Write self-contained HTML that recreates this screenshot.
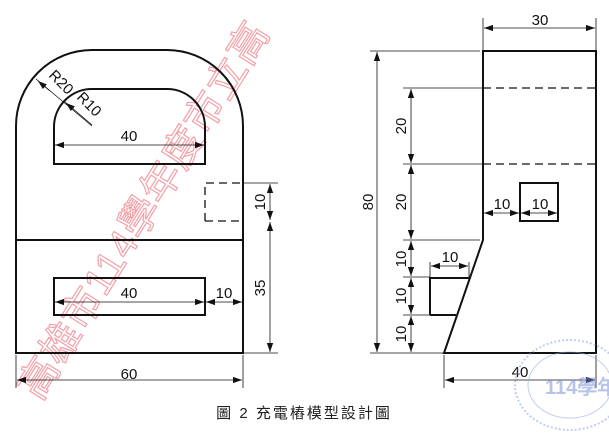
<!DOCTYPE html>
<html><head><meta charset="utf-8"><style>
html,body{margin:0;padding:0;background:#fff;}
svg{display:block;}
text{font-family:"Liberation Sans",Arial,sans-serif;}
</style></head><body>
<svg width="609" height="433" viewBox="0 0 609 433" xmlns="http://www.w3.org/2000/svg">
<defs>
<marker id="a" viewBox="0 0 10 10" refX="10" refY="5" markerWidth="9" markerHeight="9" orient="auto-start-reverse" markerUnits="userSpaceOnUse">
<path d="M0,1.5 L10,5 L0,8.5 z" fill="#111"/></marker>
</defs>
<!-- watermark -->
<text x="0" y="0" transform="translate(40,402) rotate(-58)" font-family="'Noto Serif CJK SC','Noto Sans CJK TC',serif" font-size="40" fill="none" stroke="#f2a0a8" stroke-width="1.2" letter-spacing="1">高雄市114學年度市立高</text>

<g stroke="#111" fill="none" stroke-width="2">
<path d="M16,353 L16,126 A76,76 0 0 1 92,50 L167,50 A76,76 0 0 1 243,126 L243,353 Z"/>
<line x1="16" y1="240" x2="243" y2="240"/>
<path d="M54,164 L54,127 A38,38 0 0 1 92,89 L167,89 A38,38 0 0 1 205,127 L205,164 Z"/>
<rect x="54" y="278" width="151" height="37"/>
<path d="M483,51 L596,51 L596,353 L444,353 L483,240 Z"/>
<path d="M430,315 L430,278 L469,278"/>
<path d="M430,315 L456,315"/>
<rect x="520" y="183" width="38" height="38"/>
</g>
<g stroke="#111" fill="none" stroke-width="1.3" stroke-dasharray="8,5">
<path d="M205,221 L205,183 L243,183"/>
<path d="M205,221 L243,221"/>
<line x1="483" y1="88" x2="596" y2="88"/>
<line x1="483" y1="164" x2="596" y2="164"/>
</g>
<g stroke="#111" stroke-width="0.8" fill="none">
<line x1="16" y1="355" x2="16" y2="388"/>
<line x1="243" y1="355" x2="243" y2="388"/>
<line x1="243" y1="183" x2="278" y2="183"/>
<line x1="243" y1="353" x2="278" y2="353"/>
<line x1="483" y1="18" x2="483" y2="50"/>
<line x1="596" y1="18" x2="596" y2="50"/>
<line x1="370" y1="51" x2="480" y2="51"/>
<line x1="403" y1="88" x2="483" y2="88"/>
<line x1="403" y1="164" x2="483" y2="164"/>
<line x1="403" y1="240" x2="480" y2="240"/>
<line x1="403" y1="277" x2="430" y2="277"/>
<line x1="403" y1="315" x2="430" y2="315"/>
<line x1="370" y1="353" x2="444" y2="353"/>
<line x1="444" y1="355" x2="444" y2="388"/>
<line x1="596" y1="355" x2="596" y2="388"/>
<line x1="430" y1="262" x2="430" y2="277"/>
<line x1="469" y1="262" x2="469" y2="277"/>
<line x1="36" y1="79" x2="92" y2="126"/>
<line x1="64" y1="101" x2="92" y2="125"/>
</g>
<g stroke="#111" stroke-width="0.8" fill="none" marker-start="url(#a)" marker-end="url(#a)">
<line x1="17" y1="380" x2="242" y2="380"/>
<line x1="55" y1="145" x2="204" y2="145"/>
<line x1="55" y1="302" x2="204" y2="302"/>
<line x1="206" y1="302" x2="242" y2="302"/>
<line x1="270" y1="184" x2="270" y2="220"/>
<line x1="270" y1="222" x2="270" y2="352"/>
<line x1="484" y1="28" x2="595" y2="28"/>
<line x1="377" y1="52" x2="377" y2="352"/>
<line x1="411" y1="89" x2="411" y2="163"/>
<line x1="411" y1="165" x2="411" y2="239"/>
<line x1="411" y1="241" x2="411" y2="276"/>
<line x1="411" y1="278" x2="411" y2="314"/>
<line x1="411" y1="316" x2="411" y2="352"/>
<line x1="431" y1="266" x2="468" y2="266"/>
<line x1="484" y1="213" x2="519" y2="213"/>
<line x1="521" y1="213" x2="557" y2="213"/>
<line x1="445" y1="380" x2="595" y2="380"/>
</g>
<g stroke="#111" stroke-width="0.8" fill="none" marker-start="url(#a)">
<line x1="38" y1="81" x2="50" y2="91"/>
<line x1="66" y1="103" x2="72" y2="108"/>
</g>
<g fill="#111" font-size="15">
<text x="129" y="379" text-anchor="middle">60</text>
<text x="129" y="141" text-anchor="middle">40</text>
<text x="129" y="298" text-anchor="middle">40</text>
<text x="224" y="298" text-anchor="middle">10</text>
<text transform="translate(265,202) rotate(-90)" text-anchor="middle">10</text>
<text transform="translate(265,288) rotate(-90)" text-anchor="middle">35</text>
<text transform="translate(48,76) rotate(45)">R20</text>
<text transform="translate(76,98) rotate(45)">R10</text>
<text x="540" y="25" text-anchor="middle">30</text>
<text x="520" y="377" text-anchor="middle">40</text>
<text transform="translate(373,202) rotate(-90)" text-anchor="middle">80</text>
<text transform="translate(406,126) rotate(-90)" text-anchor="middle">20</text>
<text transform="translate(406,202) rotate(-90)" text-anchor="middle">20</text>
<text transform="translate(406,259) rotate(-90)" text-anchor="middle">10</text>
<text transform="translate(406,296) rotate(-90)" text-anchor="middle">10</text>
<text transform="translate(406,334) rotate(-90)" text-anchor="middle">10</text>
<text x="450" y="262" text-anchor="middle">10</text>
<text x="502" y="209" text-anchor="middle">10</text>
<text x="540" y="209" text-anchor="middle">10</text>
</g>
<g opacity="0.55">
<ellipse cx="570" cy="385" rx="55" ry="45" fill="none" stroke="#8fa6e0" stroke-width="2" stroke-dasharray="2,2"/>
<ellipse cx="570" cy="385" rx="42" ry="33" fill="none" stroke="#8fa6e0" stroke-width="1"/>
<text x="545" y="394" font-family="'Liberation Serif',serif" font-size="20" fill="#7d93d8" font-weight="bold">114學年</text>
</g>
<text x="304" y="418" text-anchor="middle" font-family="'Liberation Serif','Noto Serif CJK SC',serif" font-size="15" fill="#222" letter-spacing="2">圖 2 充電樁模型設計圖</text>
</svg>
</body></html>
